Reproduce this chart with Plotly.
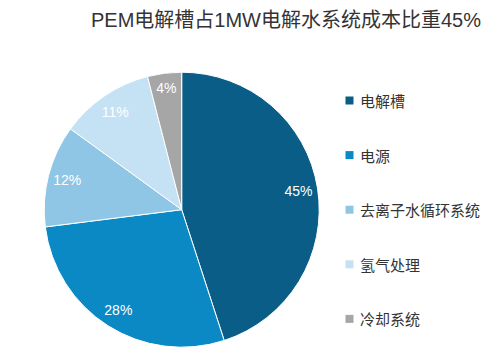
import plotly.graph_objects as go

categories = ["电解槽", "电源", "去离子水循环系统", "氢气处理", "冷却系统"]
values = [45, 28, 12, 11, 4]
colors = ["#0A5D87", "#0B89C4", "#8FC6E6", "#C4E2F3", "#A6A6A6"]
title_text = "PEM电解槽占1MW电解水系统成本比重45%"

W, H = 499, 359
OFF = 8  # page body margin
cx, cy, r = 181.7 - OFF, 209.7 - OFF, 137.5
domain = dict(x=[(cx - r) / W, (cx + r) / W], y=[1 - (cy + r) / H, 1 - (cy - r) / H])

fig = go.Figure()
fig.add_trace(go.Pie(
    labels=categories,
    values=values,
    sort=False,
    direction="clockwise",
    rotation=0,
    marker=dict(colors=colors, line=dict(color="white", width=1)),
    textinfo="none",
    domain=domain,
    showlegend=False,
    hoverinfo="label+percent",
))
# transparent ring that carries the percentage labels further out
fig.add_trace(go.Pie(
    labels=categories,
    values=values,
    sort=False,
    direction="clockwise",
    rotation=0,
    hole=0.72,
    marker=dict(colors=["rgba(0,0,0,0)"] * len(values), line=dict(width=0)),
    texttemplate="%{value}%",
    textposition="inside",
    insidetextorientation="horizontal",
    textfont=dict(color="white", size=14, family="Liberation Sans, Arial, sans-serif"),
    domain=domain,
    showlegend=False,
    hoverinfo="skip",
))

shapes = []
annotations = []
leg_x, leg_y0, leg_dy, sq = 349.5 - OFF, 100.5 - OFF, 54.6, 8
for i, (cat, col) in enumerate(zip(categories, colors)):
    y = leg_y0 + i * leg_dy
    shapes.append(dict(type="rect", xref="paper", yref="paper",
                       x0=(leg_x - sq / 2) / W, x1=(leg_x + sq / 2) / W,
                       y0=1 - (y + sq / 2) / H, y1=1 - (y - sq / 2) / H,
                       fillcolor=col, line=dict(width=0)))
    annotations.append(dict(text=cat, xref="paper", yref="paper",
                            x=(leg_x + 8) / W, y=1 - y / H, xanchor="left", yanchor="middle",
                            showarrow=False,
                            font=dict(size=15, color="#333333", family="Noto Sans CJK SC")))

annotations.append(dict(text=title_text, xref="paper", yref="paper",
                        x=(286 - OFF) / W, y=1 - (20 - OFF) / H, xanchor="center", yanchor="middle",
                        showarrow=False,
                        font=dict(size=20, color="#333333",
                                  family="Liberation Sans, Noto Sans CJK SC, sans-serif")))

fig.update_layout(
    width=W, height=H,
    margin=dict(l=0, r=0, t=0, b=0),
    paper_bgcolor="white", plot_bgcolor="white",
    shapes=shapes, annotations=annotations,
)
fig.write_html("out.html")
